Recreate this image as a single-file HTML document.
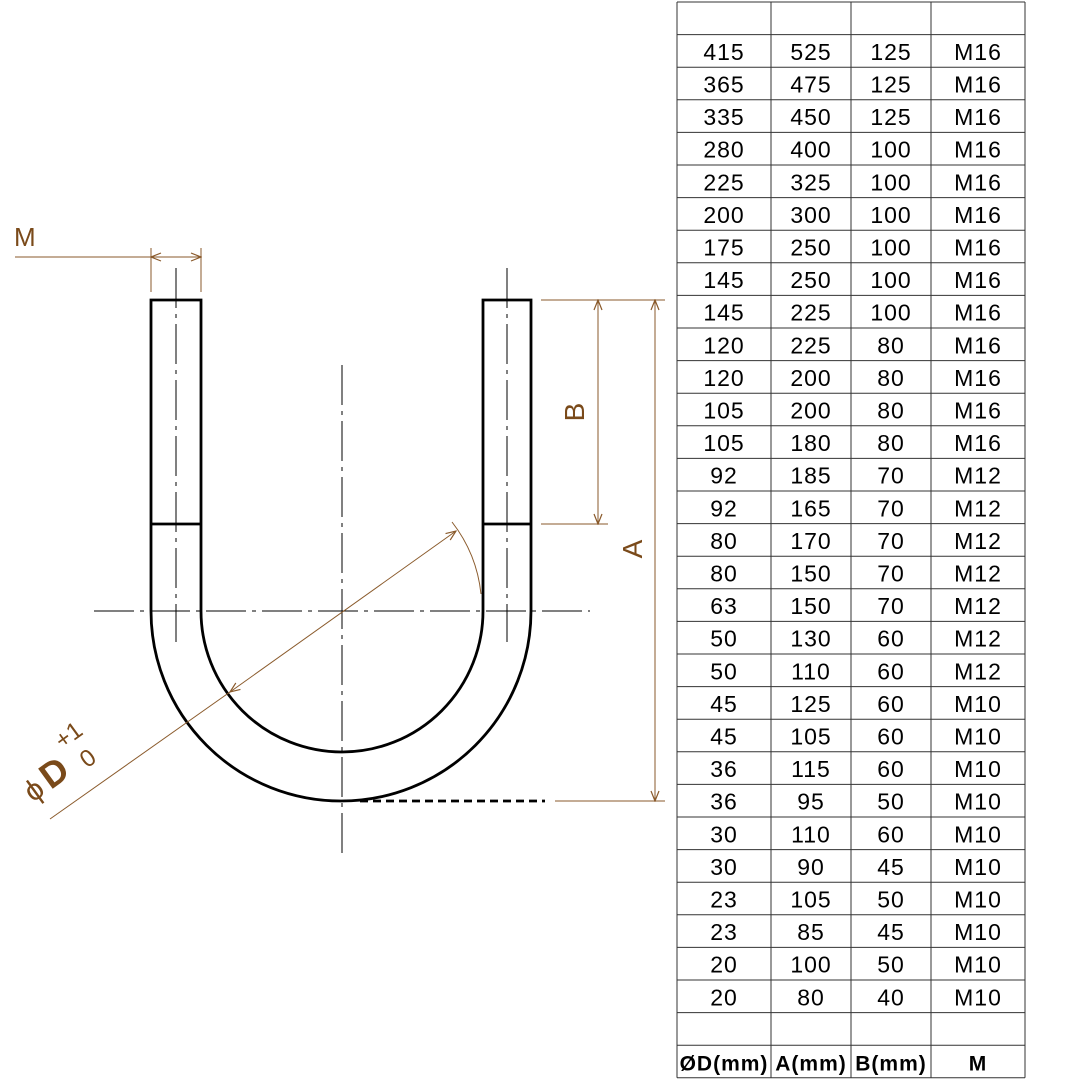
<!DOCTYPE html>
<html><head><style>
body{margin:0;background:#fff;width:1080px;height:1080px;overflow:hidden;position:relative;font-family:"Liberation Sans",sans-serif}
svg{position:absolute;left:0;top:0}
</style></head><body>
<svg width="1080" height="1080" viewBox="0 0 1080 1080">
<defs>
<marker id="ar" viewBox="0 0 10 10" refX="10" refY="5" markerWidth="12" markerHeight="10" markerUnits="userSpaceOnUse" orient="auto-start-reverse"><path d="M0,1 L10,5 L0,9" fill="none" stroke="#8a5a2b" stroke-width="1.2"/></marker>
</defs>
<g stroke="#000" fill="none">
<line x1="94" y1="611" x2="590" y2="611" stroke-width="1" stroke-dasharray="40,6,4,6"/>
<line x1="342" y1="365" x2="342" y2="858" stroke-width="1" stroke-dasharray="40,6,4,6"/>
<line x1="176" y1="268" x2="176" y2="642" stroke-width="1" stroke-dasharray="40,6,4,6"/>
<line x1="507" y1="268" x2="507" y2="642" stroke-width="1" stroke-dasharray="40,6,4,6"/>
<path d="M151,300 H201 V611 A141,141 0 0 0 483,611 V300 H531 V611 A190,190 0 0 1 151,611 Z" stroke-width="2.8"/>
<line x1="151" y1="524" x2="201" y2="524" stroke-width="2.8"/>
<line x1="483" y1="524" x2="531" y2="524" stroke-width="2.8"/>
<line x1="360" y1="801" x2="545" y2="801" stroke-width="2.8" stroke-dasharray="8,5"/>
</g>
<g stroke="#8a5a2b" fill="none" stroke-width="1">
<line x1="15" y1="257" x2="201" y2="257"/>
<line x1="151" y1="257" x2="201" y2="257" marker-start="url(#ar)" marker-end="url(#ar)"/>
<line x1="151" y1="248" x2="151" y2="292"/>
<line x1="201" y1="248" x2="201" y2="292"/>
<line x1="541" y1="300" x2="665" y2="300"/>
<line x1="541" y1="524" x2="608" y2="524"/>
<line x1="555" y1="801" x2="665" y2="801"/>
<line x1="598" y1="300" x2="598" y2="524" marker-start="url(#ar)" marker-end="url(#ar)"/>
<line x1="655" y1="300" x2="655" y2="801" marker-start="url(#ar)" marker-end="url(#ar)"/>
<line x1="50" y1="819" x2="230" y2="692"/>
<line x1="230" y1="692" x2="456" y2="531" marker-start="url(#ar)" marker-end="url(#ar)"/>
<path d="M452,522 A141,141 0 0 1 481,594"/>
</g>
<g fill="#7a4a1a" font-family="Liberation Sans,sans-serif">
<text x="14" y="246" font-size="26">M</text>
<text transform="translate(584,412) rotate(-90)" font-size="28" text-anchor="middle">B</text>
<text transform="translate(642,549) rotate(-90)" font-size="28" text-anchor="middle">A</text>
<g transform="translate(33,803) rotate(-36)">
<text x="0" y="0" font-size="30">ϕ</text>
<text x="22" y="0" font-size="36" font-weight="bold">D</text>
<text x="55" y="-26" font-size="24">+1</text>
<text x="64" y="4" font-size="24">0</text>
</g>
</g>
<g id="tbl"></g>
</svg>
<script>
(function(){
var data=[[415,525,125,16],[365,475,125,16],[335,450,125,16],[280,400,100,16],[225,325,100,16],[200,300,100,16],[175,250,100,16],[145,250,100,16],[145,225,100,16],[120,225,80,16],[120,200,80,16],[105,200,80,16],[105,180,80,16],[92,185,70,12],[92,165,70,12],[80,170,70,12],[80,150,70,12],[63,150,70,12],[50,130,60,12],[50,110,60,12],[45,125,60,10],[45,105,60,10],[36,115,60,10],[36,95,50,10],[30,110,60,10],[30,90,45,10],[23,105,50,10],[23,85,45,10],[20,100,50,10],[20,80,40,10]];
var xs=[677,771,851,931,1025],top=2,rh=32.6,n=33,s='';
for(var i=0;i<=n;i++){var y=top+i*rh;s+='<line x1="677" x2="1025" y1="'+y+'" y2="'+y+'" stroke="#333" stroke-width="1"/>';}
for(var j=0;j<5;j++){s+='<line y1="2" y2="'+(top+n*rh)+'" x1="'+xs[j]+'" x2="'+xs[j]+'" stroke="#333" stroke-width="1"/>';}
for(var r=0;r<30;r++){var y=top+(r+1)*rh+rh/2+9;var d=data[r];var v=[d[0],d[1],d[2],'M'+d[3]];
for(var c=0;c<4;c++){s+='<text x="'+((xs[c]+xs[c+1])/2)+'" y="'+y+'" font-size="23" letter-spacing="1" text-anchor="middle" fill="#000">'+v[c]+'</text>';}}
var hy=top+32*rh+rh/2+9,h=['ØD(mm)','A(mm)','B(mm)','M'];
for(var c=0;c<4;c++){s+='<text x="'+((xs[c]+xs[c+1])/2)+'" y="'+hy+'" font-size="21" font-weight="bold" text-anchor="middle" letter-spacing="1" fill="#000">'+h[c]+'</text>';}
document.getElementById('tbl').innerHTML=s;
})();
</script>
</body></html>
